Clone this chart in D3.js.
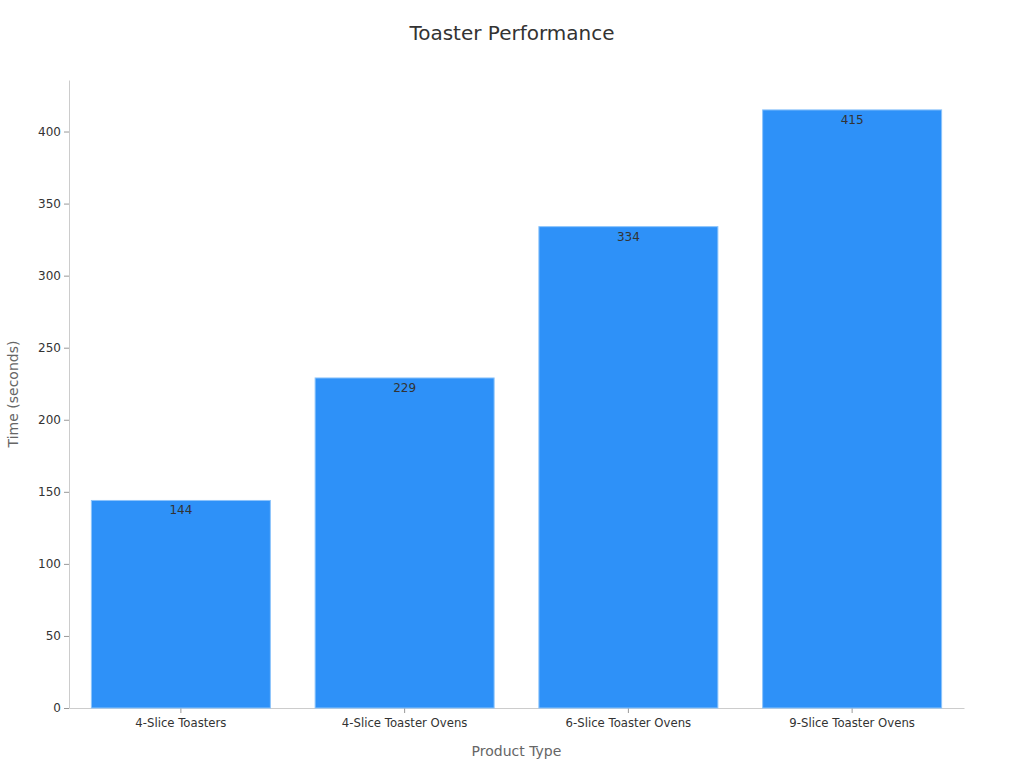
<!DOCTYPE html>
<html>
<head>
<meta charset="utf-8">
<script src="https://cdn.jsdelivr.net/npm/d3@7"></script>
<style>
  body { margin: 0; background: #fff; }
  text { font-family: "DejaVu Sans", sans-serif; }
</style>
</head>
<body>
<svg id="chart" width="1024" height="768"></svg>
<script>
const categories = ["4-Slice Toasters", "4-Slice Toaster Ovens", "6-Slice Toaster Ovens", "9-Slice Toaster Ovens"];
const times = [144, 229, 334, 415];
const yTicks = [0, 50, 100, 150, 200, 250, 300, 350, 400];

const svg = d3.select("#chart");
const width = +svg.attr("width");
const height = +svg.attr("height");
const margin = { top: 80, right: 60, bottom: 60, left: 69 };
const innerWidth = width - margin.left - margin.right;
const innerHeight = height - margin.top - margin.bottom;

const g = svg.append("g")
  .attr("transform", `translate(${margin.left},${margin.top})`);

const x = d3.scaleBand()
  .domain(categories)
  .range([0, innerWidth])
  .paddingInner(0.2)
  .paddingOuter(0.1);

const y = d3.scaleLinear()
  .domain([0, 415 * 1.05])
  .range([innerHeight, 0]);

// title
svg.append("text")
  .attr("x", width / 2)
  .attr("y", 40)
  .attr("text-anchor", "middle")
  .attr("font-size", "20px")
  .attr("fill", "#333")
  .text("Toaster Performance");

// y axis
const yAxis = g.append("g")
  .call(d3.axisLeft(y).tickValues(yTicks).tickSize(5).tickPadding(3).tickSizeOuter(0));
yAxis.select(".domain").attr("stroke", "#ccc");
yAxis.selectAll(".tick line").attr("stroke", "#999");
yAxis.selectAll(".tick text").attr("font-size", "12px").attr("fill", "#333")
  .style("font-family", "DejaVu Sans, sans-serif");

// x axis
const xAxis = g.append("g")
  .attr("transform", `translate(0,${innerHeight})`)
  .call(d3.axisBottom(x).tickSize(5).tickPadding(6).tickSizeOuter(0));
xAxis.select(".domain").attr("stroke", "#ccc");
xAxis.selectAll(".tick line").attr("stroke", "#999");
xAxis.selectAll(".tick text").attr("font-size", "11.7px").attr("fill", "#333")
  .style("font-family", "DejaVu Sans, sans-serif");

// bars
g.selectAll(".bar")
  .data(times)
  .enter()
  .append("rect")
  .attr("class", "bar")
  .attr("x", (d, i) => x(categories[i]))
  .attr("y", d => y(d))
  .attr("width", x.bandwidth())
  .attr("height", d => innerHeight - y(d))
  .attr("fill", "#2e91f8")
  .attr("stroke", "#8cc4fb")
  .attr("stroke-width", 1);

// value labels
g.selectAll(".val")
  .data(times)
  .enter()
  .append("text")
  .attr("class", "val")
  .attr("x", (d, i) => x(categories[i]) + x.bandwidth() / 2)
  .attr("y", d => y(d) + 14)
  .attr("text-anchor", "middle")
  .attr("font-size", "12px")
  .attr("fill", "#333")
  .text(d => d);

// axis titles
svg.append("text")
  .attr("x", margin.left + innerWidth / 2)
  .attr("y", 756)
  .attr("text-anchor", "middle")
  .attr("font-size", "14px")
  .attr("fill", "#666")
  .text("Product Type");

svg.append("text")
  .attr("transform", `translate(18,${margin.top + innerHeight / 2}) rotate(-90)`)
  .attr("text-anchor", "middle")
  .attr("font-size", "14px")
  .attr("fill", "#666")
  .text("Time (seconds)");
</script>
</body>
</html>
